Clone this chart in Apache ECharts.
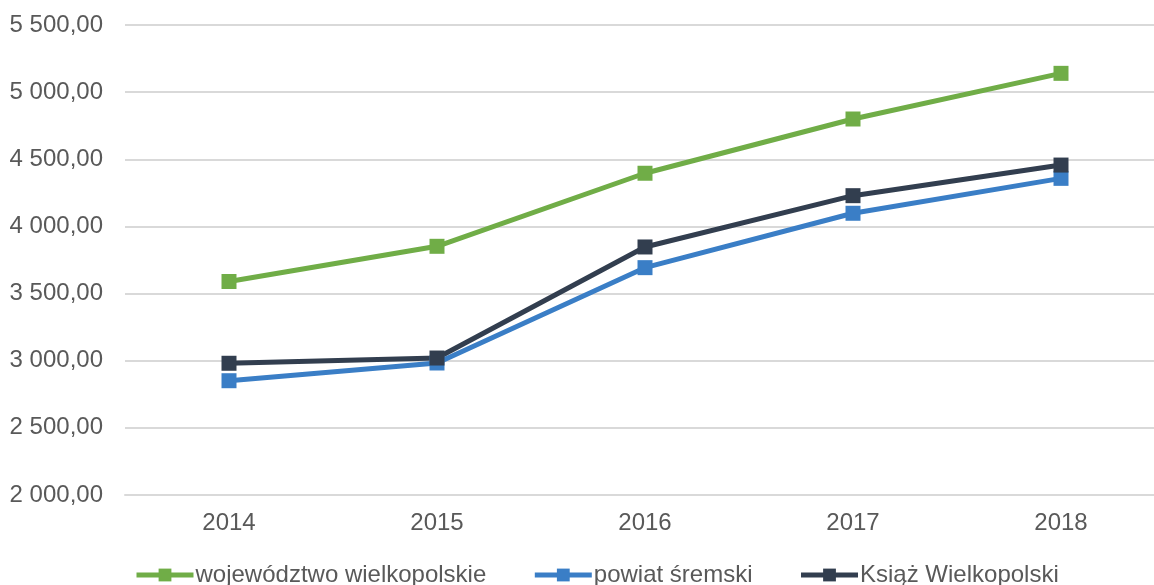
<!DOCTYPE html>
<html><head><meta charset="utf-8">
<script src="https://cdn.jsdelivr.net/npm/echarts@6/dist/echarts.min.js"></script>
<style>html,body{margin:0;padding:0;background:#fff}#c{width:1154px;height:585px}</style>
</head><body><div id="c"></div>
<script>
const categories = ['2014','2015','2016','2017','2018'];
const seriesNames = ['województwo wielkopolskie','powiat śremski','Książ Wielkopolski'];
const wojewodztwo = [3590, 3852, 4396, 4800, 5140];
const powiat = [2851, 2983, 3693, 4098, 4358];
const ksiaz = [2981, 3020, 3847, 4229, 4457];
const yMin = 2000, yMax = 5500, yStep = 500;
const colors = ['#70AD47', '#3A7EC6', '#323E4F'];

function fmt(v){
  const s = v.toFixed(2).replace('.', ',');
  const [i, d] = s.split(',');
  return i.replace(/\B(?=(\d{3})+(?!\d))/g, ' ') + ',' + d;
}
const font = '"Liberation Sans", Arial, sans-serif';
const chart = echarts.init(document.getElementById('c'));
const data = [wojewodztwo, powiat, ksiaz];
chart.setOption({
  animation: false,
  grid: {left: 125, width: 1040, top: 25, bottom: 90, containLabel: false, outerBoundsMode: 'none'},
  legend: {
    top: 558, left: 129, itemWidth: 57, itemHeight: 16, itemGap: 46,
    lineStyle: {width: 5},
    textStyle: {fontFamily: font, fontSize: 24, color: '#595959', padding: [0,0,0,-3]},
    data: seriesNames
  },
  xAxis: {
    type: 'category', data: categories, boundaryGap: true,
    axisLine: {lineStyle: {color: '#D9D9D9', width: 2}},
    axisTick: {show: false},
    axisLabel: {fontFamily: font, fontSize: 24, color: '#595959', margin: 16}
  },
  yAxis: {
    type: 'value', min: yMin, max: yMax, interval: yStep,
    axisLine: {show: false}, axisTick: {show: false},
    splitLine: {lineStyle: {color: '#D9D9D9', width: 2}},
    axisLabel: {fontFamily: font, fontSize: 24, color: '#595959', margin: 22, formatter: fmt}
  },
  series: seriesNames.map((n, i) => ({
    name: n, type: 'line', data: data[i],
    symbol: 'rect', symbolSize: 15,
    lineStyle: {color: colors[i], width: 5},
    itemStyle: {color: colors[i]}
  }))
});
</script></body></html>
